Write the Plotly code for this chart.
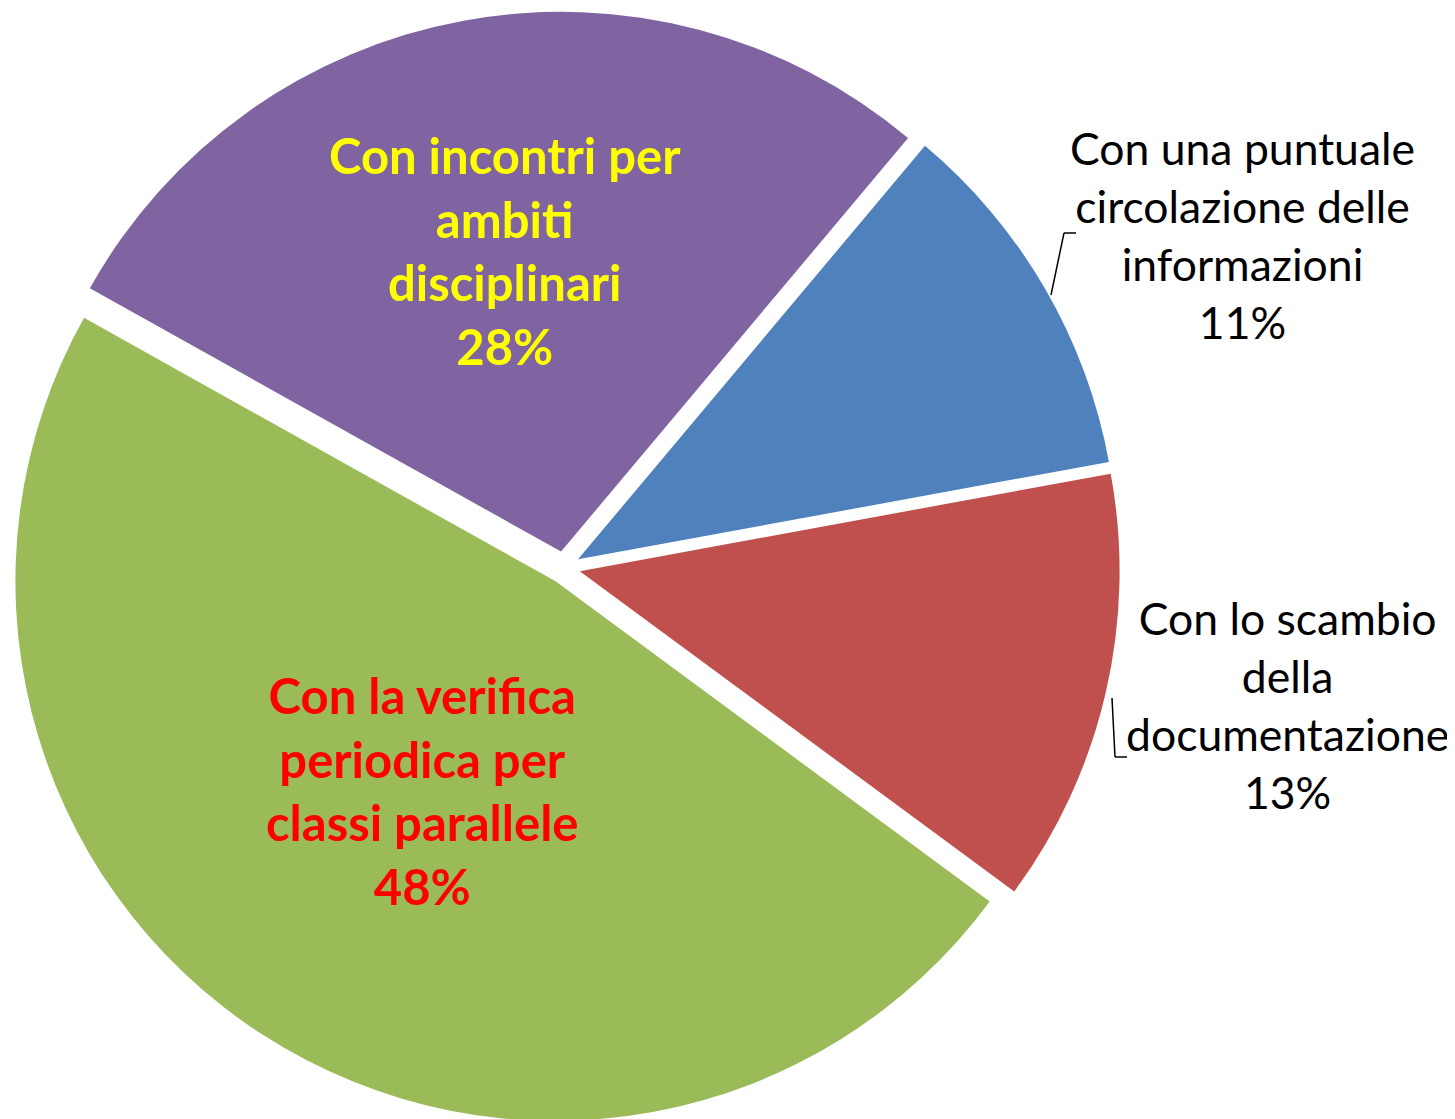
import plotly.graph_objects as go

# Data
categories = [
    "Con una puntuale circolazione delle informazioni",
    "Con lo scambio della documentazione",
    "Con la verifica periodica per classi parallele",
    "Con incontri per ambiti disciplinari",
]
values = [11, 13, 48, 28]
label_text = [
    "Con una puntuale<br>circolazione delle<br>informazioni<br>11%",
    "Con lo scambio<br>della<br>documentazione<br>13%",
    "Con la verifica<br>periodica per<br>classi parallele<br>48%",
    "Con incontri per<br>ambiti<br>disciplinari<br>28%",
]
colors = ["#4F81BD", "#C0504D", "#9BBB59", "#8064A2"]

W, H = 1455, 1119
FONT = "Lato"

fig = go.Figure(go.Pie(
    labels=categories,
    values=values,
    sort=False,
    direction="clockwise",
    rotation=40,
    pull=[0.03, 0.03, 0.03, 0.03],
    marker=dict(colors=colors, line=dict(width=0)),
    textinfo="none",
    hoverinfo="skip",
    showlegend=False,
    domain=dict(x=[0.0, 1112 / W], y=[0.0, 1.0]),
))

def px(x, y):
    return x / W, 1 - y / H

DX, DY = -8, -10
annots = [
    # (text, cx, cy, color, bold, size)
    (label_text[0], 1242, 236, "#000000", False, 44.5),
    (label_text[1], 1287, 706, "#000000", False, 44.5),
    (label_text[2], 422, 792, "#FF0000", True, 49),
    (label_text[3], 505, 252, "#FFFF00", True, 49),
]
for txt, cx, cy, col, bold, size in annots:
    x, y = px(cx + DX, cy + DY)
    t = f"<b>{txt}</b>" if bold else txt
    fig.add_annotation(
        x=x, y=y, xref="paper", yref="paper", text=t, showarrow=False,
        xanchor="center", yanchor="middle", align="center",
        font=dict(family=FONT, size=size, color=col),
    )

# leader lines
for pts in [[(1043, 287), (1056, 225), (1068, 225)],
            [(1104, 690), (1107, 749), (1119, 749)]]:
    xs = [p[0] / W for p in pts]
    ys = [1 - p[1] / H for p in pts]
    for i in range(len(pts) - 1):
        fig.add_shape(type="line", xref="paper", yref="paper",
                      x0=xs[i], y0=ys[i], x1=xs[i + 1], y1=ys[i + 1],
                      line=dict(color="#000000", width=1.5))

fig.update_layout(
    width=W, height=H,
    margin=dict(l=0, r=0, t=0, b=0),
    paper_bgcolor="white", plot_bgcolor="white",
    font=dict(family=FONT),
)

fig.write_html("out.html")
